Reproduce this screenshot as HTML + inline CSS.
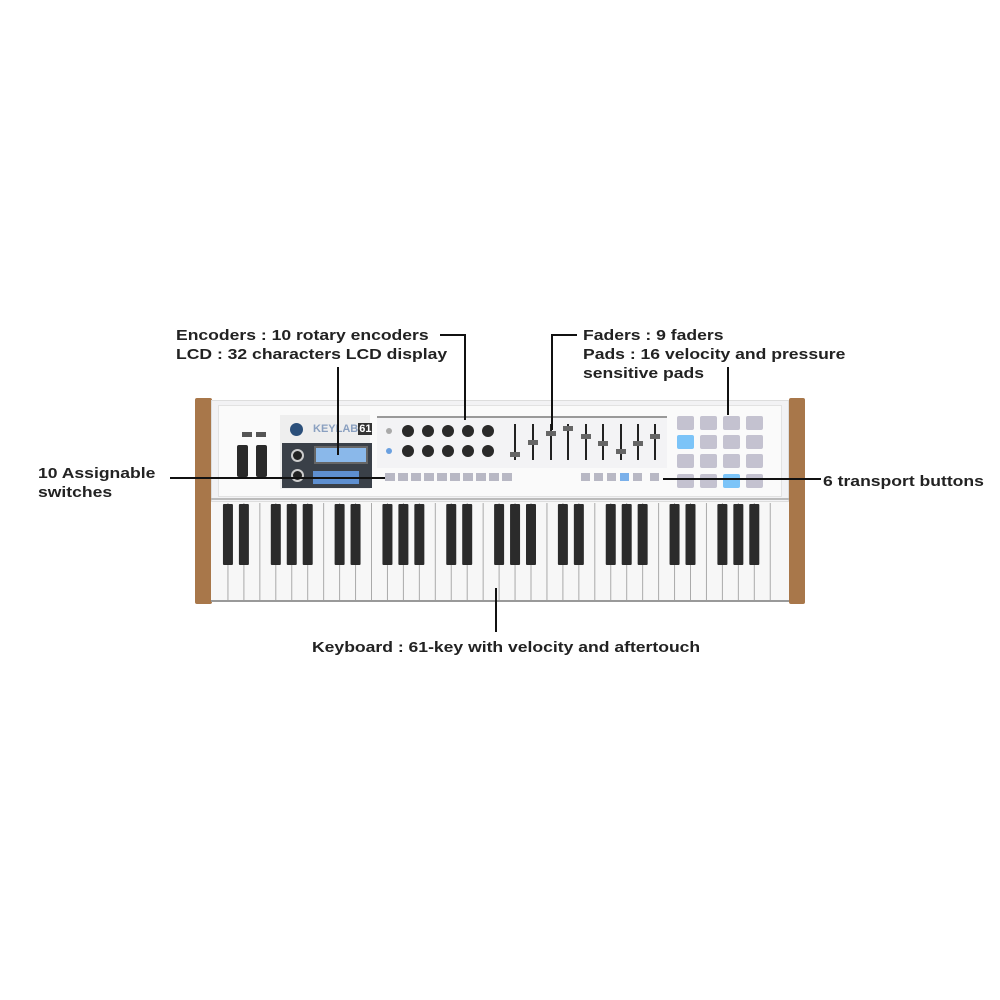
<!DOCTYPE html>
<html><head><style>
body{margin:0;width:1000px;height:1000px;background:#fff;position:relative;overflow:hidden;font-family:"Liberation Sans",Arial,sans-serif}
.a{position:absolute}
.t{position:absolute;font-weight:bold;font-size:15px;color:#222;line-height:19px;white-space:nowrap;transform:scaleX(1.17);transform-origin:0 0}
.l{position:absolute;background:#111}
</style></head><body>
<div class="a" style="left:195px;top:398px;width:17px;height:206px;background:#a8774a;border-radius:2px"></div>
<div class="a" style="left:789px;top:398px;width:16px;height:206px;background:#a8774a;border-radius:2px"></div>
<div class="a" style="left:211px;top:400px;width:578px;height:102px;background:#f2f2f4;border:1px solid #ddd;box-sizing:border-box"></div>
<div class="a" style="left:218px;top:405px;width:562px;height:90px;background:#fafafa;border:1px solid #e2e2e2"></div>
<div class="a" style="left:237px;top:445px;width:11px;height:32px;background:#2a2a2a;border-radius:2px"></div>
<div class="a" style="left:256px;top:445px;width:11px;height:32px;background:#2a2a2a;border-radius:2px"></div>
<div class="a" style="left:242px;top:432px;width:10px;height:5px;background:#555"></div>
<div class="a" style="left:256px;top:432px;width:10px;height:5px;background:#555"></div>
<div class="a" style="left:280px;top:415px;width:90px;height:74px;background:#eee"></div>
<div class="a" style="left:290px;top:423px;width:13px;height:13px;border-radius:50%;background:#2b4f7a"></div>
<div class="a" style="left:313px;top:423px;font-size:11px;font-weight:bold;color:#8aa0c0">KEYLAB<span style="background:#333;color:#fff;padding:0 1px">61</span></div>
<div class="a" style="left:282px;top:443px;width:90px;height:45px;background:#3a4048"></div>
<div class="a" style="left:314px;top:446px;width:54px;height:18px;background:#8ab8ea;border:2px solid #666;box-sizing:border-box"></div>
<div class="a" style="left:313px;top:471px;width:46px;height:13px;background:#5e8fd0"></div>
<div class="a" style="left:291px;top:449px;width:13px;height:13px;border-radius:50%;background:#222;border:2px solid #ccc;box-sizing:border-box"></div>
<div class="a" style="left:291px;top:469px;width:13px;height:13px;border-radius:50%;background:#222;border:2px solid #ccc;box-sizing:border-box"></div>
<div class="a" style="left:377px;top:416px;width:290px;height:50px;background:#f3f3f5;border-top:2px solid #999"></div>
<svg class="a" style="left:0;top:0" width="1000" height="1000">
<g fill="#2a2a2a">
<circle cx="408" cy="431" r="6"/><circle cx="428" cy="431" r="6"/><circle cx="448" cy="431" r="6"/><circle cx="468" cy="431" r="6"/><circle cx="488" cy="431" r="6"/>
<circle cx="408" cy="451" r="6"/><circle cx="428" cy="451" r="6"/><circle cx="448" cy="451" r="6"/><circle cx="468" cy="451" r="6"/><circle cx="488" cy="451" r="6"/>
</g>
<circle cx="389" cy="431" r="3" fill="#aaa"/><circle cx="389" cy="451" r="3" fill="#6aa0e0"/>
<g stroke="#222" stroke-width="2">
<line x1="515" y1="424" x2="515" y2="460"/><line x1="533" y1="424" x2="533" y2="460"/><line x1="551" y1="424" x2="551" y2="460"/><line x1="568" y1="424" x2="568" y2="460"/><line x1="586" y1="424" x2="586" y2="460"/><line x1="603" y1="424" x2="603" y2="460"/><line x1="621" y1="424" x2="621" y2="460"/><line x1="638" y1="424" x2="638" y2="460"/><line x1="655" y1="424" x2="655" y2="460"/>
</g>
<g fill="#666">
<rect x="510" y="452" width="10" height="5"/><rect x="528" y="440" width="10" height="5"/><rect x="546" y="431" width="10" height="5"/><rect x="563" y="426" width="10" height="5"/><rect x="581" y="434" width="10" height="5"/><rect x="598" y="441" width="10" height="5"/><rect x="616" y="449" width="10" height="5"/><rect x="633" y="441" width="10" height="5"/><rect x="650" y="434" width="10" height="5"/>
</g>
<g fill="#b8b8c4">
<rect x="385" y="473" width="10" height="8"/><rect x="398" y="473" width="10" height="8"/><rect x="411" y="473" width="10" height="8"/><rect x="424" y="473" width="10" height="8"/><rect x="437" y="473" width="10" height="8"/><rect x="450" y="473" width="10" height="8"/><rect x="463" y="473" width="10" height="8"/><rect x="476" y="473" width="10" height="8"/><rect x="489" y="473" width="10" height="8"/><rect x="502" y="473" width="10" height="8"/>
<rect x="581" y="473" width="9" height="8"/><rect x="594" y="473" width="9" height="8"/><rect x="607" y="473" width="9" height="8"/><rect x="633" y="473" width="9" height="8"/><rect x="650" y="473" width="9" height="8"/>
</g>
<rect x="620" y="473" width="9" height="8" fill="#7ab0ea"/>
<g fill="#c4c2d0">
<rect x="677" y="416" width="17" height="14" rx="2"/><rect x="700" y="416" width="17" height="14" rx="2"/><rect x="723" y="416" width="17" height="14" rx="2"/><rect x="746" y="416" width="17" height="14" rx="2"/>
<rect x="700" y="435" width="17" height="14" rx="2"/><rect x="723" y="435" width="17" height="14" rx="2"/><rect x="746" y="435" width="17" height="14" rx="2"/>
<rect x="677" y="454" width="17" height="14" rx="2"/><rect x="700" y="454" width="17" height="14" rx="2"/><rect x="723" y="454" width="17" height="14" rx="2"/><rect x="746" y="454" width="17" height="14" rx="2"/>
<rect x="677" y="474" width="17" height="14" rx="2"/><rect x="700" y="474" width="17" height="14" rx="2"/><rect x="746" y="474" width="17" height="14" rx="2"/>
</g>
<rect x="677" y="435" width="17" height="14" rx="2" fill="#7cc4f8"/>
<rect x="723" y="474" width="17" height="14" rx="2" fill="#7cc4f8"/>
<line x1="211" y1="499" x2="789" y2="499" stroke="#bbb" stroke-width="2"/>
<rect x="211" y="502" width="578" height="100" fill="#f7f7f7"/>
<g id="w" stroke="#aaa" stroke-width="1"></g>
<g id="b" fill="#2b2b2b"></g>
<line x1="211" y1="601" x2="789" y2="601" stroke="#999" stroke-width="2"/>
</svg>
<script>
var w=document.getElementById('w'),b=document.getElementById('b'),s='';
var x0=212,kw=15.95;
for(var i=1;i<36;i++){var x=x0+i*kw;s+='<line x1="'+x+'" y1="503" x2="'+x+'" y2="600"/>';}
w.innerHTML=s;s='';
var off=[1,2,4,5,6];
for(var o=0;o<5;o++)for(var j=0;j<5;j++){var x=x0+(o*7+off[j])*kw-5;s+='<rect x="'+x+'" y="504" width="10" height="61" rx="1"/>';}
b.innerHTML=s;
</script>
<div class="l" style="left:440px;top:334px;width:26px;height:2px"></div>
<div class="l" style="left:464px;top:334px;width:2px;height:86px"></div>
<div class="l" style="left:337px;top:367px;width:2px;height:88px"></div>
<div class="l" style="left:551px;top:334px;width:26px;height:2px"></div>
<div class="l" style="left:551px;top:334px;width:2px;height:96px"></div>
<div class="l" style="left:727px;top:367px;width:2px;height:48px"></div>
<div class="l" style="left:170px;top:477px;width:215px;height:2px"></div>
<div class="l" style="left:663px;top:478px;width:158px;height:2px"></div>
<div class="l" style="left:495px;top:588px;width:2px;height:44px"></div>
<div class="t" style="left:176px;top:326px">Encoders : 10 rotary encoders<br>LCD : 32 characters LCD display</div>
<div class="t" style="left:583px;top:326px">Faders : 9 faders<br>Pads : 16 velocity and pressure<br>sensitive pads</div>
<div class="t" style="left:38px;top:464px">10 Assignable<br>switches</div>
<div class="t" style="left:823px;top:472px">6 transport buttons</div>
<div class="t" style="left:312px;top:638px">Keyboard : 61-key with velocity and aftertouch</div>
</body></html>
